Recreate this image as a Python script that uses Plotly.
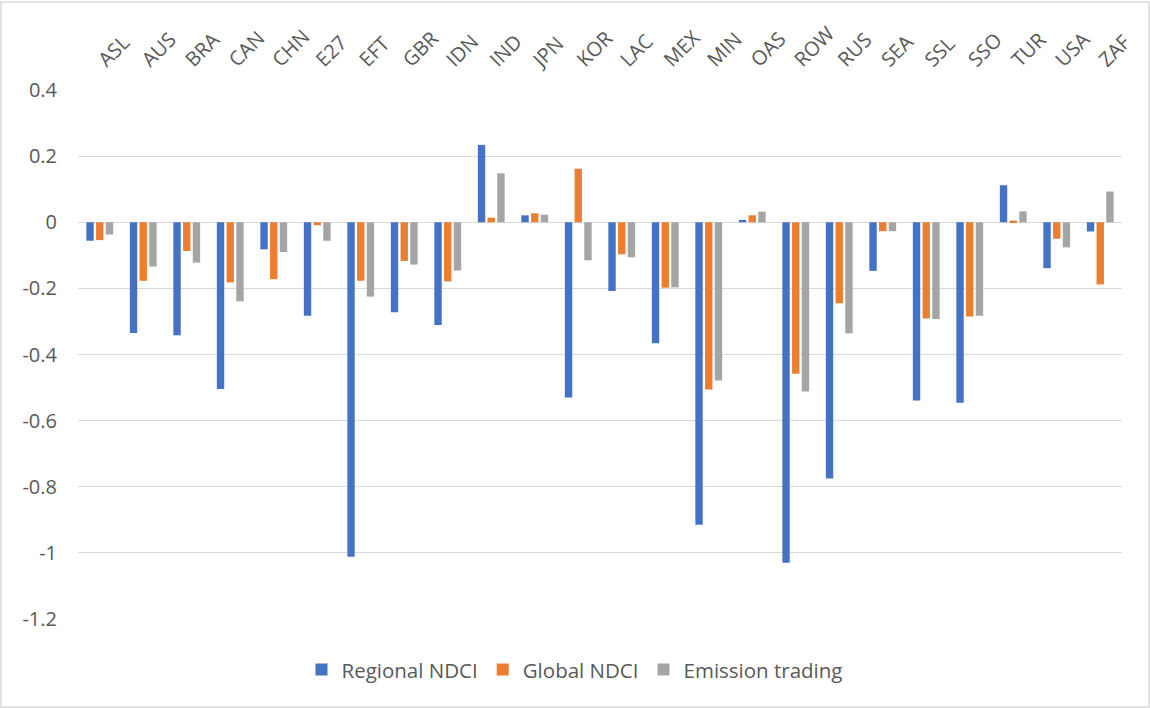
import plotly.graph_objects as go

regions = ["ASL", "AUS", "BRA", "CAN", "CHN", "E27", "EFT", "GBR", "IDN", "IND",
           "JPN", "KOR", "LAC", "MEX", "MIN", "OAS", "ROW", "RUS", "SEA", "SSL",
           "SSO", "TUR", "USA", "ZAF"]

regional_ndci = [-0.056, -0.335, -0.342, -0.504, -0.082, -0.283, -1.012, -0.272, -0.311, 0.234,
                 0.021, -0.530, -0.208, -0.366, -0.915, 0.007, -1.030, -0.775, -0.147, -0.539,
                 -0.546, 0.112, -0.139, -0.028]

global_ndci = [-0.054, -0.177, -0.087, -0.182, -0.172, -0.009, -0.177, -0.117, -0.179, 0.014,
               0.027, 0.162, -0.097, -0.198, -0.506, 0.021, -0.458, -0.245, -0.027, -0.291,
               -0.285, 0.005, -0.050, -0.188]

emission_trading = [-0.037, -0.134, -0.122, -0.239, -0.090, -0.056, -0.225, -0.128, -0.146, 0.148,
                    0.023, -0.115, -0.106, -0.197, -0.479, 0.032, -0.512, -0.336, -0.027, -0.293,
                    -0.283, 0.033, -0.076, 0.093]

y_ticks = [0.4, 0.2, 0, -0.2, -0.4, -0.6, -0.8, -1, -1.2]

series = [
    ("Regional NDCI", regional_ndci, "#4472C4"),
    ("Global NDCI", global_ndci, "#ED7D31"),
    ("Emission trading", emission_trading, "#A5A5A5"),
]

FONT = "Open Sans"
TXT = "#595959"

fig = go.Figure()
for name, vals, color in series:
    fig.add_trace(go.Bar(
        name=name, x=regions, y=vals,
        marker=dict(color=color, line=dict(width=0)),
    ))

fig.update_layout(
    width=1150, height=708,
    margin=dict(l=78, r=28, t=90, b=89),
    paper_bgcolor="white", plot_bgcolor="white",
    barmode="group", bargap=0.33, bargroupgap=0.24,
    font=dict(family=FONT, size=20, color=TXT),
    showlegend=True,
    legend=dict(
        orientation="h", xref="container", yref="container",
        x=0.5, xanchor="center", y=0.054, yanchor="middle",
        font=dict(family=FONT, size=20.5, color=TXT),
        itemwidth=30, traceorder="normal",
    ),
    xaxis=dict(
        side="top", tickangle=-45, showgrid=False, showline=False,
        ticks="", ticklabelstandoff=14,
        tickfont=dict(family=FONT, size=20, color=TXT),
    ),
    yaxis=dict(
        range=[-1.2, 0.4], tickvals=y_ticks, ticktext=[f"{v:g}" for v in y_ticks],
        showgrid=True, gridcolor="#D9D9D9", gridwidth=1,
        zeroline=True, zerolinecolor="#D9D9D9", zerolinewidth=1,
        showline=False, ticks="", ticklabelstandoff=20,
        tickfont=dict(family=FONT, size=20, color=TXT),
    ),
)

# thin frame around the whole chart area
fig.add_shape(
    type="rect", xref="paper", yref="paper",
    x0=-77 / 1044, x1=1 + 27 / 1044, y0=-88 / 528.4, y1=1 + 88 / 528.4,
    line=dict(color="#D9D9D9", width=1.5), fillcolor="rgba(0,0,0,0)", layer="below",
)

fig.write_html("out.html")
